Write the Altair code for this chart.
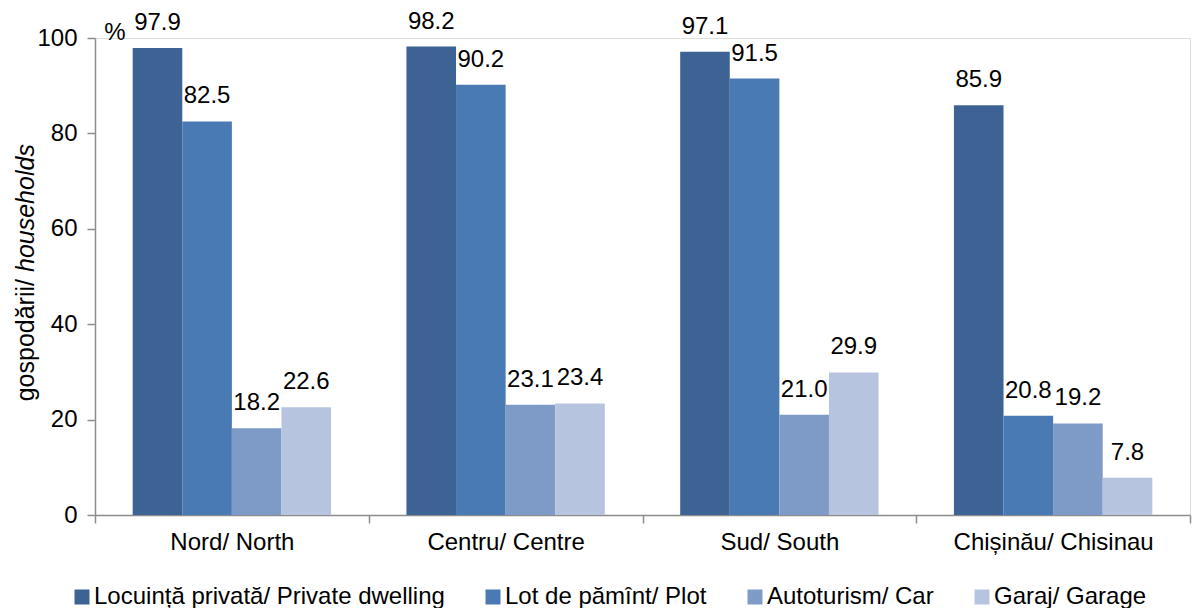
import altair as alt
import pandas as pd

regions = ["Nord/ North", "Centru/ Centre", "Sud/ South", "Chișinău/ Chisinau"]
series = ["Locuință privată/ Private dwelling", "Lot de pămînt/ Plot",
          "Autoturism/ Car", "Garaj/ Garage"]
dwelling = [97.9, 98.2, 97.1, 85.9]
plot_land = [82.5, 90.2, 91.5, 20.8]
car = [18.2, 23.1, 21.0, 19.2]
garage = [22.6, 23.4, 29.9, 7.8]
colors = ["#3C6394", "#4A7AB3", "#7E9BC8", "#B7C4E0"]
y_ticks = [0, 20, 40, 60, 80, 100]

rows = []
for s, vals in zip(series, [dwelling, plot_land, car, garage]):
    for r, v in zip(regions, vals):
        rows.append({"region": r, "series": s, "value": v, "label": f"{v:.1f}"})
df = pd.DataFrame(rows)

FONT = "Liberation Sans"
FS = 24

x = alt.X("region:N", sort=regions, title=None,
          scale=alt.Scale(paddingInner=0, paddingOuter=0),
          axis=alt.Axis(labelAngle=0, labelFontSize=FS, labelFont=FONT, labelColor="#000",
                        domainColor="#8c8c8c", tickColor="#8c8c8c", tickSize=8,
                        tickBand="extent", labelPadding=7, domainWidth=1.5, tickWidth=1.5,
                        labelLimit=400))
xo = alt.XOffset("series:N", sort=series, scale=alt.Scale(paddingInner=0, paddingOuter=0.76))
y = alt.Y("value:Q", scale=alt.Scale(domain=[0, 100], nice=False),
          axis=alt.Axis(values=y_ticks, title=None, grid=False, labelFontSize=FS,
                        labelFont=FONT, labelColor="#000", domainColor="#8c8c8c",
                        tickColor="#8c8c8c", tickSize=8, labelPadding=10,
                        domainWidth=1.5, tickWidth=1.5))

base = alt.Chart(df)
bars = base.mark_bar().encode(
    x=x, xOffset=xo, y=y,
    color=alt.Color("series:N", sort=series,
                    scale=alt.Scale(domain=series, range=colors),
                    legend=alt.Legend(title=None, orient="none", direction="horizontal",
                                      legendX=-25, legendY=547, columns=4,
                                      columnPadding=36, symbolType="square",
                                      symbolSize=225, symbolStrokeWidth=0,
                                      labelFontSize=FS, labelFont=FONT, labelColor="#000",
                                      labelOffset=0, labelLimit=500)),
)
labels = base.mark_text(font=FONT, fontSize=FS, dy=-25, baseline="middle", color="#000").encode(
    x=x, xOffset=xo, y="value:Q", text="label:N")

pct = alt.Chart(pd.DataFrame({"t": ["%"]})).mark_text(
    font=FONT, fontSize=FS, baseline="middle", align="center", color="#000").encode(
    x=alt.value(20), y=alt.value(-5), text="t:N")
ytitle1 = alt.Chart(pd.DataFrame({"t": ["gospodării/"]})).mark_text(
    font=FONT, fontSize=25, baseline="middle", align="right", angle=270, color="#000").encode(
    x=alt.value(-69), y=alt.value(241), text="t:N")
ytitle2 = alt.Chart(pd.DataFrame({"t": ["households"]})).mark_text(
    font=FONT, fontSize=25, baseline="middle", align="left", angle=270, color="#000",
    fontStyle="italic").encode(
    x=alt.value(-69), y=alt.value(234), text="t:N")

chart = alt.layer(bars, labels, pct, ytitle1, ytitle2).properties(
    width=1095, height=477,
    autosize=alt.AutoSizeParams(type="none"),
    padding={"left": 87, "top": 30, "right": 5, "bottom": 93},
).configure_view(stroke=None).configure(font=FONT)

chart.save("out.html", embed_options={"renderer": "svg", "actions": False})
